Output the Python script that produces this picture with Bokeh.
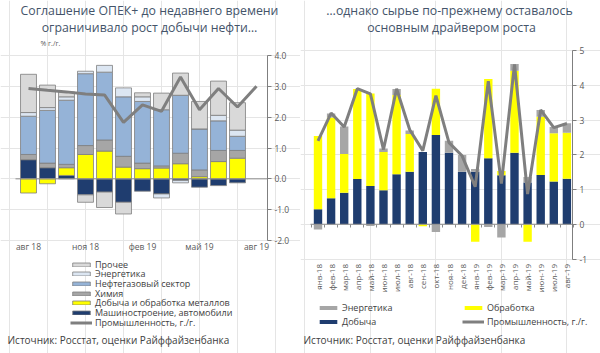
import math
from bokeh.plotting import figure
from bokeh.models import (Range1d, FixedTicker, PrintfTickFormatter, Label, LinearAxis,
                          Legend, LegendItem)
from bokeh.layouts import row
from bokeh.embed import file_html
from bokeh.resources import INLINE

FONT = "Open Sans"
TITLE_C = "#44546a"
AX_C = "#595959"
TXT_C = "#404040"
W, H = 300, 353

# ---------------- left chart data ----------------
left_ticks = [1, 4, 7, 10, 13]
left_tick_labels = ["авг 18", "ноя 18", "фев 19", "май 19", "авг 19"]
mash = [0.62, 0.36, 0.11, -0.52, -0.43, -0.76, -0.40, -0.49, -0.05, -0.27, -0.22, -0.13]
metal = [-0.46, -0.16, 0.25, 0.79, 0.90, 0.38, 0.33, 0.35, 0.49, 0.07, 0.56, 0.67]
chem = [0.17, 0.15, 0.11, 0.29, 0.36, 0.35, 0.18, 0.07, 0.34, 0.22, 0.36, 0.25]
oilgas = [1.24, 1.71, 2.08, 2.33, 2.20, 1.93, 2.00, 1.82, 1.88, 1.33, 0.96, 0.46]
energy_l = [0.12, 0.09, 0.11, 0.08, 0.22, 0.29, 0.15, -0.13, -0.08, 0.00, 0.18, 0.20]
other = [1.24, 0.73, 0.16, -0.24, -0.50, -0.38, 0.13, 0.54, 0.72, 0.89, 1.11, 0.89]
industry_l = [2.93, 2.87, 2.82, 2.75, 2.72, 1.83, 2.40, 2.19, 3.30, 2.24, 2.93, 2.33, 3.00]
left_yticks = [-2, -1, 0, 1, 2, 3, 4]

# ---------------- right chart data ----------------
right_months = ["янв-18", "фев-18", "мар-18", "апр-18", "май-18", "июн-18", "июл-18", "авг-18",
                "сен-18", "окт-18", "ноя-18", "дек-18", "янв-19", "фев-19", "мар-19", "апр-19",
                "май-19", "июн-19", "июл-19", "авг-19"]
mining = [0.43, 0.75, 0.91, 1.30, 1.10, 0.98, 1.44, 1.51, 2.08, 2.57, 2.06, 1.51, 1.51, 1.90,
          1.41, 2.06, 1.20, 1.42, 1.23, 1.31]
manuf = [2.11, 2.32, 1.11, 2.59, 2.66, 1.10, 2.28, 1.09, -0.06, 1.33, 0.00, 0.00, -0.50, 2.28,
         0.12, 2.36, -0.50, 1.67, 1.39, 1.32]
energy_r = [-0.15, 0.12, 0.79, 0.00, -0.05, 0.10, 0.17, 0.10, 0.00, -0.22, 0.34, 0.48, 0.08,
            -0.08, -0.38, 0.19, 0.16, 0.20, 0.18, 0.28]
industry_r = [2.40, 3.20, 2.80, 3.90, 3.75, 2.15, 3.90, 2.72, 2.12, 3.70, 2.35, 1.97, 1.08, 4.12,
              1.17, 4.60, 0.87, 3.29, 2.78, 2.90]
right_yticks = [-1, 0, 1, 2, 3, 4, 5]


def stack(series_list):
    n = len(series_list[0])
    pos = [0.0] * n
    neg = [0.0] * n
    out = []
    for s in series_list:
        bots, tops = [], []
        for i, v in enumerate(s):
            if v >= 0:
                b = pos[i]; t = b + v; pos[i] = t
            else:
                b = neg[i]; t = b + v; neg[i] = t
            bots.append(b); tops.append(t)
        out.append((bots, tops))
    return out


def make_fig(x0px, dxpx, frame_l, frame_r, ymax, ymax_px, ymin, ymin_px):
    """Figure whose frame is the whole canvas; ranges chosen so that the plot area
    [frame_l, frame_r] x [ymax_px, ymin_px] (canvas px) holds the chart."""
    xs = 1 - x0px / dxpx
    xe = 1 + (W - x0px) / dxpx
    ppu = (ymin_px - ymax_px) / (ymax - ymin)
    ys = ymin - (H - ymin_px) / ppu
    ye = ymax + ymax_px / ppu
    p = figure(width=W, height=H, x_range=Range1d(xs, xe), y_range=Range1d(ys, ye),
               output_backend="svg", toolbar_location=None,
               x_axis_location=None, y_axis_location=None,
               min_border=0, min_border_left=0, min_border_right=0,
               min_border_top=0, min_border_bottom=0)
    p.outline_line_color = None
    p.background_fill_color = "white"
    p.border_fill_color = "white"
    xl = 1 + (frame_l - x0px) / dxpx
    xr = 1 + (frame_r - x0px) / dxpx
    return p, xl, xr


def clabel(p, cx, cy, text, size, color, align="left"):
    p.add_layout(Label(x=cx, y=H - cy, x_units="screen", y_units="screen", text=text,
                       text_font=FONT, text_font_size=size, text_color=color,
                       text_align=align, text_baseline="middle"))


def yaxis(p, xloc, ticks, fmt):
    ax = LinearAxis(fixed_location=xloc, bounds=(ticks[0], ticks[-1]),
                    ticker=FixedTicker(ticks=ticks), formatter=PrintfTickFormatter(format=fmt))
    ax.axis_line_color = "#7f7f7f"
    ax.major_tick_line_color = "#7f7f7f"
    ax.major_tick_in = 0
    ax.major_tick_out = 4
    ax.minor_tick_line_color = None
    ax.major_label_text_font = FONT
    ax.major_label_text_font_size = "8.5px"
    ax.major_label_text_color = AX_C
    ax.major_label_standoff = 3
    p.add_layout(ax, "right")


def xaxis(p, yloc, ticks, labels, size, standoff, orient=None):
    ax = LinearAxis(fixed_location=yloc, ticker=FixedTicker(ticks=ticks),
                    major_label_overrides={k: v for k, v in zip(ticks, labels)})
    ax.axis_line_color = None
    ax.major_tick_line_color = None
    ax.major_tick_in = 0
    ax.major_tick_out = 0
    ax.minor_tick_line_color = None
    ax.major_label_text_font = FONT
    ax.major_label_text_font_size = size
    ax.major_label_text_color = AX_C
    ax.major_label_standoff = standoff
    if orient is not None:
        ax.major_label_orientation = orient
    p.add_layout(ax, "below")


def legend(p, items, x, ybottom, spacing):
    lg = Legend(items=items, location=(x, H - ybottom), glyph_width=22, glyph_height=5,
                label_height=5, label_width=10, spacing=spacing, padding=0, margin=0,
                border_line_color=None, background_fill_alpha=0, label_standoff=3,
                label_text_font=FONT, label_text_font_size="9px", label_text_color=TXT_C)
    p.add_layout(lg)


# ================= LEFT =================
p1, xl1, xr1 = make_fig(28, 19.0, 15, 267, 4, 55, -2, 240)
xs1 = list(range(1, len(mash) + 1))
series1 = [mash, metal, chem, oilgas, energy_l, other]
colors1 = ["#1f3d6f", "#ffff00", "#a6a6a6", "#95b3d7", "#dce6f2", "#d9d9d9"]
names1 = ["Машиностроение, автомобили", "Добыча и обработка металлов", "Химия",
          "Нефтегазовый сектор", "Энергетика", "Прочее"]
rends1 = {}
for (b, t), c, nm in zip(stack(series1), colors1, names1):
    rends1[nm] = p1.vbar(x=xs1, bottom=b, top=t, width=0.84, fill_color=c,
                         line_color="#7f7f7f", line_width=0.8)
p1.segment(x0=[xl1], x1=[xr1], y0=[0], y1=[0], line_color="#8c8c8c", line_width=1)
rl1 = p1.line(x=list(range(1, len(industry_l) + 1)), y=industry_l, line_color="#7f7f7f",
              line_width=3)
yaxis(p1, xr1, left_yticks, "%.1f")
xaxis(p1, -2, left_ticks, left_tick_labels, "8.5px", 0)

order1 = ["Прочее", "Энергетика", "Нефтегазовый сектор", "Химия",
          "Добыча и обработка металлов", "Машиностроение, автомобили"]
entries1 = [(nm, rends1[nm]) for nm in order1] + [("Промышленность, г./г.", rl1)]
for k, (nm, r) in enumerate(entries1):
    legend(p1, [LegendItem(label=nm, renderers=[r])], 70, 264 + 9.67 * k + 6.5, 0)

clabel(p1, 149, 10, "Соглашение ОПЕК+ до недавнего времени", "12.3px", TITLE_C, "center")
clabel(p1, 149, 27, "ограничивало рост добычи нефти…", "12.3px", TITLE_C, "center")
clabel(p1, 40, 43, "% г./г.", "7px", AX_C, "left")
clabel(p1, 7, 339, "Источник: Росстат, оценки Райффайзенбанка", "10px", TXT_C, "left")

# ================= RIGHT =================
p2, xl2, xr2 = make_fig(17.5, 13.1, 10, 272, 5, 50, -1, 258.5)
xs2 = list(range(1, len(right_months) + 1))
series2 = [mining, manuf, energy_r]
colors2 = ["#1f3d6f", "#ffff00", "#a6a6a6"]
names2 = ["Добыча", "Обработка", "Энергетика"]
rends2 = {}
for (b, t), c, nm in zip(stack(series2), colors2, names2):
    rends2[nm] = p2.vbar(x=xs2, bottom=b, top=t, width=0.64, fill_color=c, line_color=None)
p2.segment(x0=[xl2], x1=[xr2], y0=[0], y1=[0], line_color="#8c8c8c", line_width=1)
# category tick marks on the zero line
zt = LinearAxis(fixed_location=0, ticker=FixedTicker(ticks=[i + 0.5 for i in range(len(xs2) + 1)]),
                major_label_text_alpha=0, axis_line_color=None, major_tick_line_color="#8c8c8c",
                major_tick_in=0, major_tick_out=3, minor_tick_line_color=None)
p2.add_layout(zt, "below")
rl2 = p2.line(x=xs2, y=industry_r, line_color="#7f7f7f", line_width=3)
yaxis(p2, xr2, right_yticks, "%d")
xaxis(p2, -1, xs2, right_months, "8px", 5, math.pi / 2)

legend(p2, [LegendItem(label="Энергетика", renderers=[rends2["Энергетика"]]),
            LegendItem(label="Добыча", renderers=[rends2["Добыча"]])], 17, 328, 1)
legend(p2, [LegendItem(label="Обработка", renderers=[rends2["Обработка"]]),
            LegendItem(label="Промышленность, г./г.", renderers=[rl2])], 162, 328, 1)

clabel(p2, 149, 10, "…однако сырье по-прежнему оставалось", "12.3px", TITLE_C, "center")
clabel(p2, 151, 27, "основным драйвером роста", "12.3px", TITLE_C, "center")
clabel(p2, 3, 339, "Источник: Росстат, оценки Райффайзенбанка", "10px", TXT_C, "left")

layout = row(p1, p2)
open("out.html", "w").write(file_html(layout, INLINE))
